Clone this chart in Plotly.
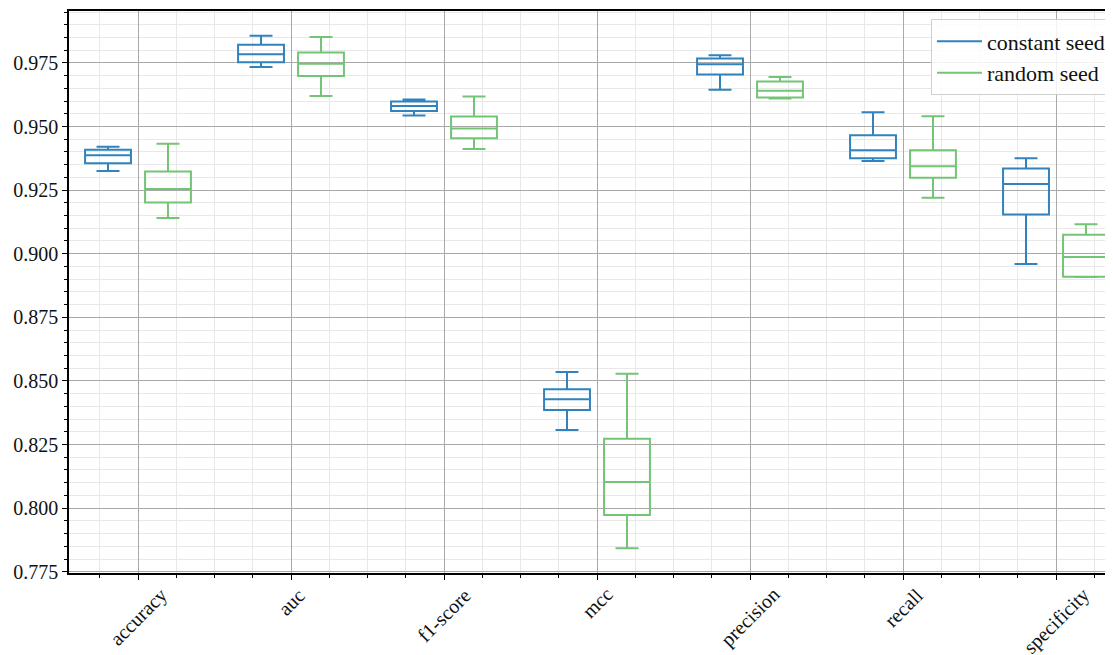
import plotly.graph_objects as go

categories = ["accuracy", "auc", "f1-score", "mcc", "precision", "recall", "specificity"]
series_names = ["constant seed", "random seed"]

# constant seed box statistics
const_low = [0.9325, 0.9734, 0.9543, 0.8307, 0.9644, 0.9364, 0.8960]
const_q1 = [0.9356, 0.9753, 0.9561, 0.8386, 0.9704, 0.9375, 0.9154]
const_med = [0.9387, 0.9784, 0.9581, 0.8428, 0.9745, 0.9407, 0.9274]
const_q3 = [0.9409, 0.9821, 0.9598, 0.8467, 0.9767, 0.9466, 0.9335]
const_high = [0.9420, 0.9857, 0.9606, 0.8535, 0.9780, 0.9556, 0.9375]

# random seed box statistics
rand_low = [0.9140, 0.9620, 0.9412, 0.7842, 0.9610, 0.9220, 0.8908]
rand_q1 = [0.9201, 0.9699, 0.9454, 0.7973, 0.9614, 0.9299, 0.8909]
rand_med = [0.9254, 0.9747, 0.9492, 0.8103, 0.9641, 0.9344, 0.8987]
rand_q3 = [0.9323, 0.9791, 0.9539, 0.8273, 0.9677, 0.9407, 0.9075]
rand_high = [0.9432, 0.9852, 0.9618, 0.8528, 0.9695, 0.9540, 0.9116]

y_ticks = [0.775, 0.800, 0.825, 0.850, 0.875, 0.900, 0.925, 0.950, 0.975]

BLUE = "#3182bd"
GREEN = "#74c476"
FONT = "Liberation Serif"

xpos = list(range(len(categories)))

fig = go.Figure()
for name, col, lo, q1, md, q3, hi in [
    (series_names[0], BLUE, const_low, const_q1, const_med, const_q3, const_high),
    (series_names[1], GREEN, rand_low, rand_q1, rand_med, rand_q3, rand_high),
]:
    fig.add_trace(go.Box(
        x=xpos, q1=q1, median=md, q3=q3, lowerfence=lo, upperfence=hi,
        name=name, marker_color=col, line=dict(color=col, width=2),
        fillcolor="rgba(255,255,255,0)", boxpoints=False, whiskerwidth=0.5,
        showlegend=False,
    ))
    fig.add_trace(go.Scatter(x=[None], y=[None], mode="lines", name=name,
                             line=dict(color=col, width=2)))

for i, c in enumerate(categories):
    fig.add_annotation(x=xpos[i], xref="x", y=0, yref="paper", text=c,
                       textangle=-45, showarrow=False, xanchor="center",
                       yanchor="top", yshift=-8,
                       font=dict(family=FONT, size=20, color="#111"))

# page body has an 8px margin, so the figure is sized/offset to land on the 1113x655 view
fig.update_layout(
    width=1105, height=647,
    margin=dict(l=61, r=1, t=3, b=82, autoexpand=False),
    paper_bgcolor="white", plot_bgcolor="white",
    boxmode="group", boxgap=0.216, boxgroupgap=0.235,
    font=dict(family=FONT, size=20, color="#111"),
    legend=dict(x=0.999, xanchor="right", y=0.985, yanchor="top",
                bgcolor="rgba(255,255,255,0.85)", bordercolor="#d0d0d0",
                borderwidth=1, font=dict(family=FONT, size=22, color="#111"),
                tracegroupgap=0, itemwidth=45),
)
fig.update_xaxes(
    range=[-0.451, 6.366], tickvals=xpos, ticktext=[""] * len(categories),
    automargin=False,
    showgrid=True, gridcolor="#a8a8a8", gridwidth=1.2,
    showline=True, linecolor="black", linewidth=1.5, mirror=True,
    ticks="outside", ticklen=5, tickcolor="black", zeroline=False,
    minor=dict(dtick=0.25, tick0=0, showgrid=True, gridcolor="#e8e8e8",
               gridwidth=1, ticks="outside", ticklen=3, tickcolor="black"),
)
fig.update_yaxes(
    range=[0.7745, 0.9954], tickvals=y_ticks, tickformat=".3f",
    automargin=False,
    showgrid=True, gridcolor="#a8a8a8", gridwidth=1.2,
    showline=True, linecolor="black", linewidth=1.5, mirror=True,
    ticks="outside", ticklen=5, tickcolor="black", zeroline=False,
    tickfont=dict(family=FONT, size=20, color="#111"),
    minor=dict(dtick=0.005, tick0=0.775, showgrid=True, gridcolor="#e8e8e8",
               gridwidth=1, ticks="outside", ticklen=3, tickcolor="black"),
)

fig.write_html("out.html")
